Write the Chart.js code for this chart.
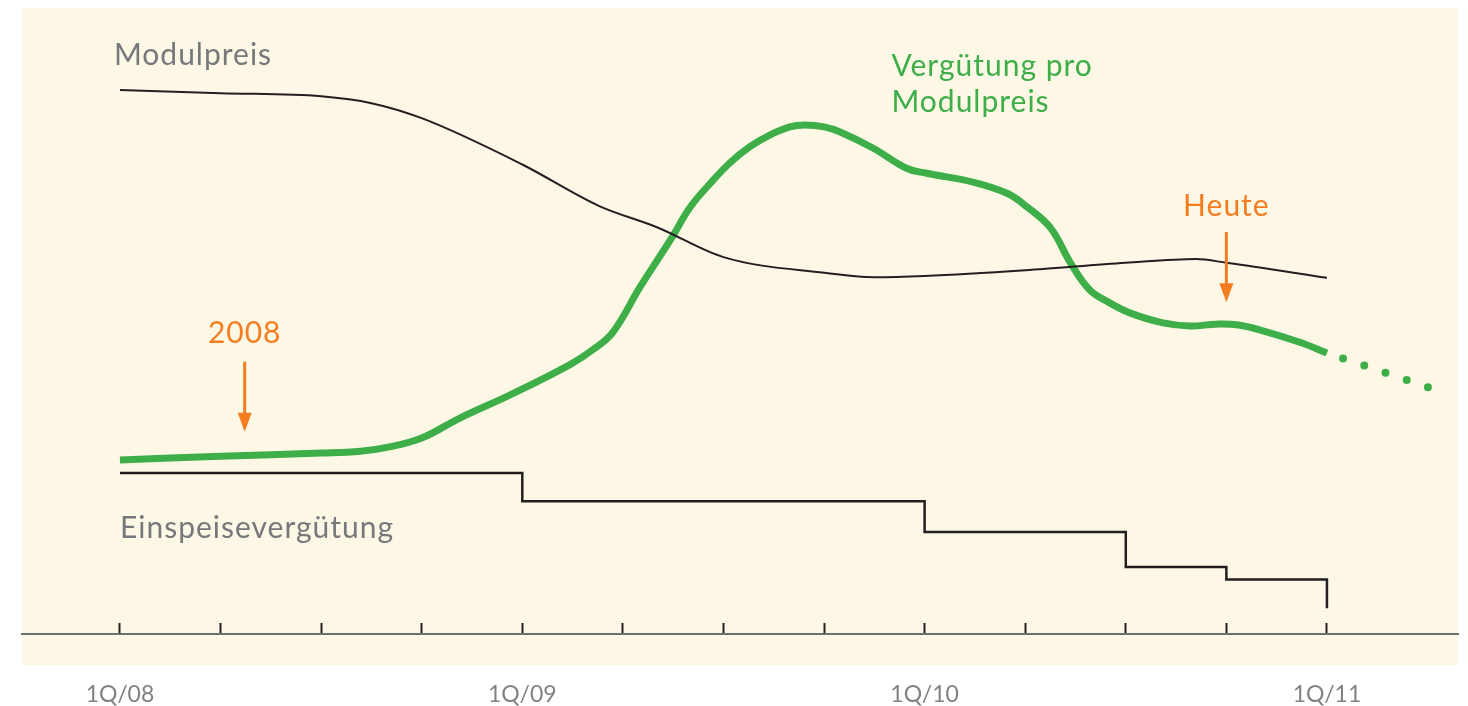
<!DOCTYPE html>
<html lang="de">
<head>
<meta charset="UTF-8">
<title>Vergütung pro Modulpreis</title>
<script src="https://cdn.jsdelivr.net/npm/chart.js@4.4.1/dist/chart.umd.min.js"></script>
<style>
    html, body { margin: 0; padding: 0; background: #ffffff; }
    #chartWrap { width: 1468px; height: 706px; }
</style>
</head>
<body>
<div id="chartWrap"><canvas id="priceChart"></canvas></div>
<script>
// =====================
// Data (x = quarters since 1Q/08)
// =====================
const tickQuarters = [0, 1, 2, 3, 4, 5, 6, 7, 8, 9, 10, 11, 12];
const tickLabels = ['1Q/08', '', '', '', '1Q/09', '', '', '', '1Q/10', '', '', '', '1Q/11'];

// Modulpreis (thin black line)
const modulQuarters = [0, 1, 2, 2.5, 3, 4, 4.76, 5.35, 6, 7, 7.5, 8, 9, 10, 10.7, 11, 12];
const modulValues   = [86.9, 86.4, 85.9, 84.8, 82.4, 75.0, 68.4, 64.9, 60.2, 57.7, 57.0, 57.2, 58.1, 59.3, 59.9, 59.3, 56.9];

// Vergütung pro Modulpreis (thick green line)
const ratioQuarters = [0, 1, 2, 2.39, 2.68, 3, 3.38, 3.88, 4.47, 4.7, 4.9, 5.17, 5.49, 5.67, 5.87, 6.06, 6.26, 6.46, 6.66, 6.81, 7, 7.16, 7.49, 7.82, 8.02, 8.48, 8.82, 9.02, 9.25, 9.45, 9.64, 9.84, 10.04, 10.37, 10.64, 10.9, 11.1, 11.33, 11.73, 12];
const ratioValues   = [27.8, 28.4, 28.9, 29.2, 29.9, 31.3, 34.5, 38.2, 43.0, 45.4, 48.2, 55.4, 63.4, 68.2, 72.0, 75.2, 77.8, 79.7, 81.0, 81.3, 81.0, 80.2, 77.6, 74.4, 73.6, 72.2, 70.4, 68.2, 64.9, 59.3, 55.0, 52.9, 51.3, 49.7, 49.2, 49.5, 49.4, 48.6, 46.6, 44.9];

// Outlook (dotted green)
const outlookQuarters = [12, 13.01];
const outlookValues   = [44.9, 39.4];

// Einspeisevergütung (stepped black line)
const tariffQuarters = [0, 4, 8, 10, 11, 12];
const tariffValues   = [25.7, 21.2, 16.3, 10.7, 8.7, 4.1];

const GREEN = '#3eae49';
const BLACK = '#231f20';
const ORANGE = '#f47d20';
const GREY_TEXT = '#76787b';

function toPoints(xs, ys) {
    return xs.map((x, i) => ({ x: x, y: ys[i] }));
}

// =====================
// Plugins
// =====================
const backgroundPlugin = {
    id: 'cream',
    beforeDraw(chart) {
        const { ctx, chartArea } = chart;
        ctx.save();
        ctx.fillStyle = '#fdf7e6';
        ctx.fillRect(chartArea.left, chartArea.top, chartArea.right - chartArea.left, chartArea.bottom - chartArea.top + 31);
        ctx.restore();
    }
};

// labels + arrows, positioned in data units
const textNotes = [
    { text: 'Modulpreis', q: -0.06, v: 90.9, color: GREY_TEXT, align: 'left' },
    { text: 'Vergütung pro', q: 7.67, v: 89.1, color: GREEN, align: 'left' },
    { text: 'Modulpreis', q: 7.67, v: 83.4, color: GREEN, align: 'left' },
    { text: 'Einspeisevergütung', q: 0, v: 15.3, color: GREY_TEXT, align: 'left' },
    { text: '2008', q: 1.24, v: 46.5, color: ORANGE, align: 'center' },
    { text: 'Heute', q: 11.0, v: 66.8, color: ORANGE, align: 'center' }
];
const arrowNotes = [
    { q: 1.24, from: 43.5, to: 32.3 },
    { q: 11.0, from: 64.2, to: 53.0 }
];

const annotationPlugin = {
    id: 'notes',
    afterDatasetsDraw(chart) {
        const { ctx } = chart;
        const xs = chart.scales.x;
        const ys = chart.scales.y;
        ctx.save();
        ctx.font = '30px Lato';
        ctx.letterSpacing = '1px';
        ctx.textBaseline = 'alphabetic';
        textNotes.forEach(n => {
            ctx.fillStyle = n.color;
            ctx.textAlign = n.align;
            ctx.fillText(n.text, xs.getPixelForValue(n.q), ys.getPixelForValue(n.v));
        });

        arrowNotes.forEach(a => {
            const x = xs.getPixelForValue(a.q);
            const y1 = ys.getPixelForValue(a.from);
            const y2 = ys.getPixelForValue(a.to);
            ctx.strokeStyle = ORANGE;
            ctx.fillStyle = ORANGE;
            ctx.lineWidth = 3;
            ctx.beginPath();
            ctx.moveTo(x, y1);
            ctx.lineTo(x, y2 - 15);
            ctx.stroke();
            ctx.beginPath();
            ctx.moveTo(x - 7, y2 - 19);
            ctx.lineTo(x + 7, y2 - 19);
            ctx.lineTo(x, y2);
            ctx.closePath();
            ctx.fill();
        });
        ctx.restore();
    }
};

// =====================
// Chart
// =====================
const ctx = document.getElementById('priceChart').getContext('2d');
new Chart(ctx, {
    type: 'line',
    data: {
        datasets: [
            {
                label: 'Modulpreis',
                data: toPoints(modulQuarters, modulValues),
                borderColor: BLACK,
                borderWidth: 2,
                cubicInterpolationMode: 'monotone',
                pointRadius: 0
            },
            {
                label: 'Einspeisevergütung',
                data: toPoints(tariffQuarters, tariffValues),
                borderColor: BLACK,
                borderWidth: 2.5,
                stepped: 'before',
                borderCapStyle: 'butt',
                borderJoinStyle: 'miter',
                pointRadius: 0
            },
            {
                label: 'Vergütung pro Modulpreis',
                data: toPoints(ratioQuarters, ratioValues),
                borderColor: GREEN,
                borderWidth: 7,
                tension: 0.4,
                borderCapStyle: 'butt',
                pointRadius: 0
            },
            {
                label: 'Ausblick',
                data: toPoints(outlookQuarters, outlookValues),
                borderColor: GREEN,
                borderWidth: 8,
                borderDash: [0, 22.4],
                borderDashOffset: 5.4,
                borderCapStyle: 'round',
                pointRadius: 0
            }
        ]
    },
    options: {
        responsive: true,
        maintainAspectRatio: false,
        animation: false,
        layout: { padding: { left: 22, right: 10, top: 8, bottom: 0 } },
        plugins: {
            legend: { display: false },
            tooltip: { enabled: false }
        },
        scales: {
            x: {
                type: 'linear',
                min: -0.974,
                max: 13.303,
                afterBuildTicks: (scale) => {
                    scale.ticks = tickQuarters.map(q => ({ value: q }));
                },
                afterFit: (scale) => {
                    // axis line sits 72px above the bottom edge
                    scale.height = 72;
                },
                ticks: {
                    autoSkip: false,
                    maxRotation: 0,
                    padding: 58,
                    color: '#808285',
                    font: { family: 'Lato', size: 23 },
                    callback: (value) => tickLabels[tickQuarters.indexOf(value)] || ''
                },
                grid: {
                    display: true,
                    drawOnChartArea: false,
                    drawTicks: true,
                    tickLength: -11,
                    tickColor: BLACK,
                    tickWidth: 2
                },
                border: { display: true, color: '#6d6e71', width: 2 }
            },
            y: {
                display: false,
                min: 0,
                max: 100
            }
        }
    },
    plugins: [backgroundPlugin, annotationPlugin]
});
</script>
</body>
</html>
